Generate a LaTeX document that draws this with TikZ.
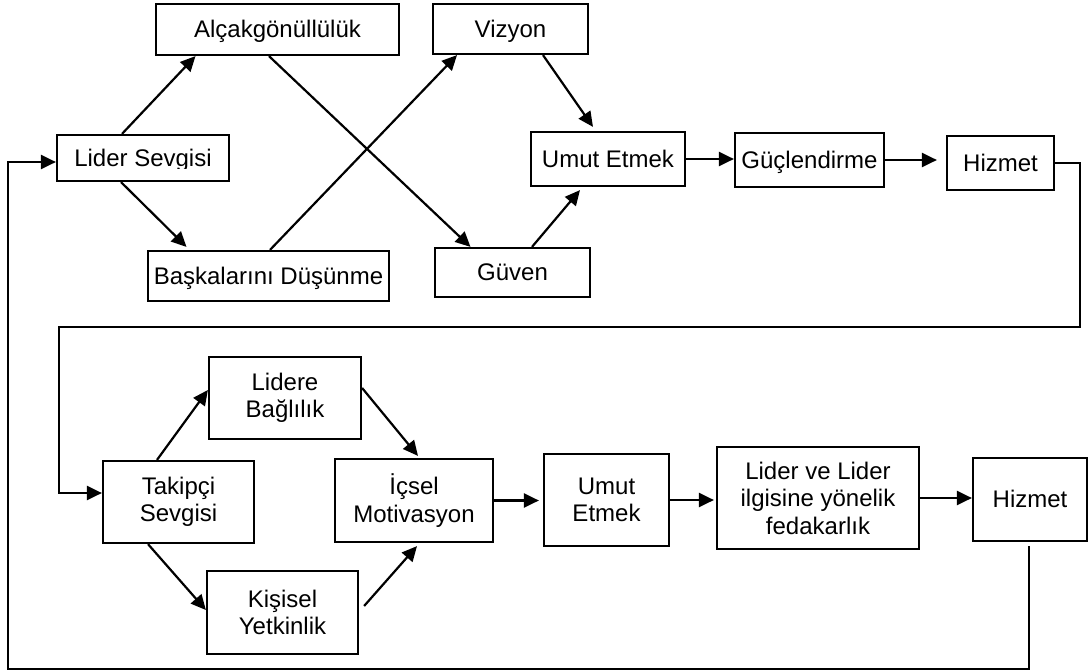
\documentclass[tikz,border=0pt]{standalone}
\usepackage{fontspec}
\setmainfont{Liberation Sans}
\usetikzlibrary{arrows.meta}
\begin{document}
\begin{tikzpicture}[x=1pt,y=-1pt,
  box/.style={draw, line width=2.2pt, align=center, inner sep=0pt,
    font=\fontsize{24}{27.5}\selectfont},
  oneline/.style={text height=16pt, text depth=0pt},
  link/.style={line width=2.2pt, -{Triangle[length=15pt,width=14pt]}}]
\useasboundingbox (0,0) rectangle (1090,672);

% --- upper model: leader love ---
\node[box, oneline, minimum width=243pt, minimum height=51pt] (alcak)   at (277.5,29.5) {Alçakgönüllülük};
\node[box, oneline, minimum width=155pt, minimum height=50pt] (vizyon)  at (510.5,29)   {Vizyon};
\node[box, minimum width=172pt, minimum height=46pt]          (lider)   at (143,158)    {};
\node[box, oneline, minimum width=154pt, minimum height=54pt] (umut1)   at (608,159)    {Umut Etmek};
\node[box, oneline, minimum width=149pt, minimum height=54pt] (guc)     at (809.5,160)  {Güçlendirme};
\node[box, oneline, minimum width=107pt, minimum height=54pt] (hizmet1) at (1000.5,163) {Hizmet};
\node[box, oneline, minimum width=241pt, minimum height=50pt] (baska)   at (268.5,276)  {Başkalarını Düşünme};
\node[box, oneline, minimum width=155pt, minimum height=49pt] (guven)   at (512.5,272.5){Güven};

% label of the first box, cut off just under the baseline
\begin{scope}
  \clip (lider.north west) rectangle ([yshift=-10.5pt]lider.east);
  \node[anchor=base, inner sep=0pt, font=\fontsize{24}{27.5}\selectfont]
    (liderlabel) at ([yshift=-8.5pt]lider.center) {Lider Sevgisi};
\end{scope}

% --- lower model: follower love ---
\node[box, minimum width=152pt, minimum height=82pt]  (lidere)  at (285,398)    {Lidere\\Bağlılık};
\node[box, minimum width=151pt, minimum height=82pt]  (takipci) at (178.5,502)  {Takipçi\\Sevgisi};
\node[box, minimum width=158pt, minimum height=83pt]  (icsel)   at (414,500.5)  {İçsel\\Motivasyon};
\node[box, minimum width=151pt, minimum height=83pt]  (kisisel) at (282.5,612.5){Kişisel\\Yetkinlik};
\node[box, minimum width=125pt, minimum height=92pt]  (umut2)   at (606.5,500)  {Umut\\Etmek};
\node[box, minimum width=202pt, minimum height=102pt] (liderve) at (818,498)    {Lider ve Lider\\ilgisine yönelik\\fedakarlık};
\node[box, oneline, minimum width=114pt, minimum height=83pt] (hizmet2) at (1030,499.5) {Hizmet};

% corners of the two feedback loops
\coordinate (r1) at (1080,327);
\coordinate (l1) at (59,327);
\coordinate (b2) at (8,669);

% --- upper connectors ---
\draw[link] ([xshift=-21pt]lider.north) -- ([xshift=-82pt]alcak.south);
\draw[link] ([xshift=-22pt]lider.south) -- ([xshift=-82pt,yshift=3pt]baska.north);
\draw[link] ([xshift=-8.5pt]alcak.south) -- ([xshift=-42pt]guven.north);
\draw[link] ([xshift=1.5pt]baska.north) -- ([xshift=-53.5pt]vizyon.south);
\draw[link] ([xshift=32.5pt]vizyon.south) -- ([xshift=-15pt,yshift=4pt]umut1.north);
\draw[link] ([xshift=19.5pt]guven.north) -- ([xshift=-28pt,yshift=-3pt]umut1.south);
\draw[link] (umut1.east) -- (umut1.east -| guc.west);
\draw[link, shorten >=9pt] (guc.east) -- (guc.east -| hizmet1.west);
\draw[link] (hizmet1.east) -| (r1) -- (l1) |- ([yshift=9pt]takipci.west);

% --- lower connectors ---
\draw[link] ([xshift=-21.5pt]takipci.north) -- ([yshift=8pt]lidere.west);
\draw[link] ([yshift=10pt]lidere.east) -- ([xshift=4pt,yshift=2pt]icsel.north);
\draw[link] ([xshift=-30.5pt]takipci.south) -- ([yshift=2.5pt]kisisel.west);
\draw[link] ([xshift=5pt,yshift=6.5pt]kisisel.east) -- ([xshift=3pt,yshift=-3pt]icsel.south);
\draw[link, shorten >=4pt] (icsel.east) -- (icsel.east -| umut2.west);
\draw[link, shorten >=2pt] (umut2.east) -- (umut2.east -| liderve.west);
\draw[link] (liderve.east) -- (liderve.east -| hizmet2.west);
\draw[link] ([xshift=-1pt,yshift=-4pt]hizmet2.south) |- (b2) |- ([yshift=-4pt]lider.west);
\end{tikzpicture}
\end{document}
